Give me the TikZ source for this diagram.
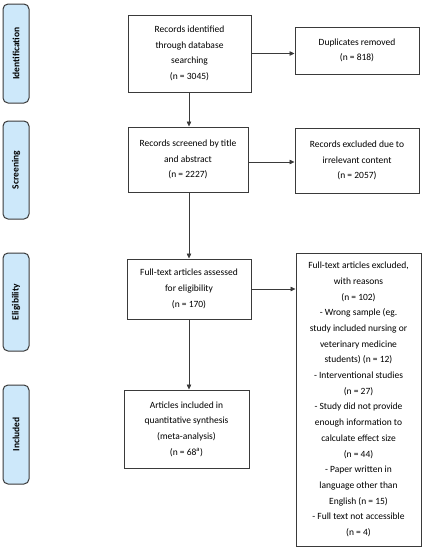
\documentclass[tikz,border=0pt]{standalone}
\usepackage{fontspec}
\setmainfont{Carlito}
\usepackage{tikz}
\usetikzlibrary{arrows.meta}

\definecolor{phaseblue}{HTML}{CDE8FA}
\definecolor{boxline}{HTML}{3A3A3A}

\tikzset{
  flowbox/.style={draw=boxline, line width=1pt, fill=white, align=center, inner sep=2pt,
    font=\fontsize{9.5}{15.7}\selectfont},
  phase/.style={draw=boxline, line width=1pt, fill=phaseblue, rounded corners=5pt,
    minimum width=26pt, inner sep=0pt, font=\bfseries\fontsize{9.5}{11}\selectfont},
  flowarrow/.style={draw=boxline, line width=0.7pt, -{Triangle[length=5pt,width=4.5pt]}}
}

\begin{document}
\begin{tikzpicture}[x=1pt,y=-1pt]
\useasboundingbox (0,0) rectangle (424,550);

\node[phase, minimum height=99pt] (pIdent) at (16,53.5) {\rotatebox{90}{Identification}};
\node[phase, minimum height=98pt] (pScreen) at (16,170) {\rotatebox{90}{Screening}};
\node[phase, minimum height=98pt] (pElig) at (16,302) {\rotatebox{90}{Eligibility}};
\node[phase, minimum height=99pt] (pIncl) at (16,434.5) {\rotatebox{90}{Included}};

\node[flowbox, minimum width=123pt, minimum height=77pt] (ident) at (189.5,53.5)
  {Records identified\\through database\\searching\\(n = 3045)};
\node[flowbox, minimum width=124pt, minimum height=47pt] (dup) at (357,50.5)
  {Duplicates removed\\(n = 818)};
\node[flowbox, minimum width=120pt, minimum height=65pt] (screen) at (188,159.5)
  {Records screened by title\\and abstract\\(n = 2227)};
\node[flowbox, minimum width=124pt, minimum height=65pt] (exclA) at (357,160.5)
  {Records excluded due to\\irrelevant content\\(n = 2057)};
\node[flowbox, minimum width=124pt, minimum height=60pt] (elig) at (189,289)
  {Full-text articles assessed\\for eligibility\\(n = 170)};
\node[flowbox, minimum width=125pt, minimum height=293pt] (exclB) at (358.5,399.5)
  {Full-text articles excluded,\\with reasons\\(n = 102)\\- Wrong sample (eg.\\study included nursing or\\veterinary medicine\\students) (n = 12)\\- Interventional studies\\(n = 27)\\- Study did not provide\\enough information to\\calculate effect size\\(n = 44)\\- Paper written in\\language other than\\English (n = 15)\\- Full text not accessible\\(n = 4)};
\node[flowbox, minimum width=125pt, minimum height=78pt] (incl) at (186.5,429)
  {Articles included in\\quantitative synthesis\\(meta-analysis)\\(n = 68\textsuperscript{a})};

\draw[flowarrow] (ident.south -| 189,0) -- (screen.north -| 189,0);
\draw[flowarrow] (screen.south -| 189,0) -- (elig.north -| 189,0);
\draw[flowarrow] (elig.south -| 189,0) -- (incl.north -| 189,0);
\draw[flowarrow] (ident.east) -- (ident.east -| dup.west);
\draw[flowarrow] ([yshift=-2.5pt]screen.east) -- ([yshift=-2.5pt]screen.east -| exclA.west);
\draw[flowarrow] (elig.east) -- (elig.east -| exclB.west);
\end{tikzpicture}
\end{document}
